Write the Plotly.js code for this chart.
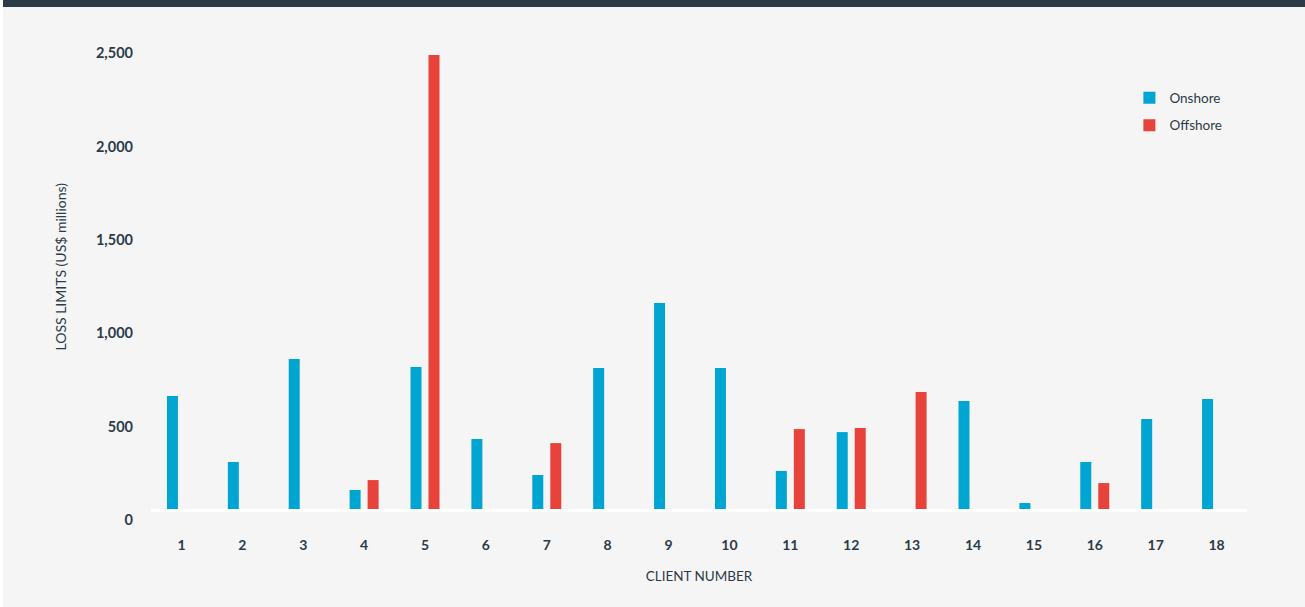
<!DOCTYPE html>
<html>
<head>
<meta charset="utf-8">
<script src="https://cdn.plot.ly/plotly-3.0.1.min.js"></script>
<style>
  html, body { margin: 0; padding: 0; background: #ffffff; }
  #wrap { position: absolute; left: 3px; top: 0; width: 1302px; height: 607px; background: #f5f5f5; }
  #band { height: 7px; background: #2c3a48; }
  #chart { width: 1302px; height: 600px; }
</style>
</head>
<body>
<div id="wrap">
  <div id="band"></div>
  <div id="chart"></div>
</div>
<script>
const clients = ['1','2','3','4','5','6','7','8','9','10','11','12','13','14','15','16','17','18'];
const onshore  = [605, 252, 803, 102, 761, 375, 182, 755, 1103, 755, 204, 412, 0, 578, 32, 252, 482, 589];
const offshore = [0, 0, 0, 155, 2432, 0, 353, 0, 0, 0, 428, 434, 627, 0, 0, 139, 0, 0];
const yTicks = [0, 500, 1000, 1500, 2000, 2500];

const textColor = '#2c3a48';

const traces = [
  {
    type: 'bar', name: 'Onshore', x: clients, y: onshore,
    marker: { color: '#00a5d1' }, legendgroup: 'a', hoverinfo: 'x+y+name'
  },
  {
    type: 'bar', name: 'Offshore', x: clients, y: offshore,
    marker: { color: '#e8433a' }, legendgroup: 'b', hoverinfo: 'x+y+name'
  }
];

const layout = {
  width: 1302, height: 600,
  paper_bgcolor: '#f5f5f5', plot_bgcolor: '#f5f5f5',
  margin: { l: 148, r: 58, t: 17, b: 98 },
  barmode: 'group', bargap: 0.409, bargroupgap: 0.389,
  font: { family: 'Lato, "Open Sans", sans-serif', color: textColor, size: 13 },
  showlegend: true,
  legend: {
    x: 0.8927, y: 0.8796, xanchor: 'left', yanchor: 'top',
    bgcolor: 'rgba(0,0,0,0)', traceorder: 'grouped', tracegroupgap: 7,
    font: { size: 13.5, color: textColor }
  },
  xaxis: {
    type: 'category', showgrid: false, zeroline: false,
    showline: true, linecolor: '#ffffff', linewidth: 3, layer: 'below traces',
    ticks: '', tickfont: { size: 14, weight: 'bold', color: textColor },
    ticklabelstandoff: 21,
    title: { text: 'CLIENT NUMBER', font: { size: 13.5, color: textColor }, standoff: 20 }
  },
  yaxis: {
    range: [0, 2598], showgrid: false, zeroline: false, showline: false,
    tickvals: yTicks, tickformat: ',', ticks: '',
    tickfont: { size: 14.5, weight: 'bold', color: textColor },
    ticklabelshift: 11, ticklabelstandoff: 17,
    title: { text: '' }
  },
  annotations: [
    {
      text: 'LOSS LIMITS (US$ millions)', xref: 'paper', yref: 'paper',
      x: -0.083, y: 0.5, xanchor: 'center', yanchor: 'middle',
      textangle: -90, showarrow: false, font: { size: 14, color: textColor }
    }
  ]
};

Plotly.newPlot('chart', traces, layout, { displayModeBar: false, responsive: false });
</script>
</body>
</html>
